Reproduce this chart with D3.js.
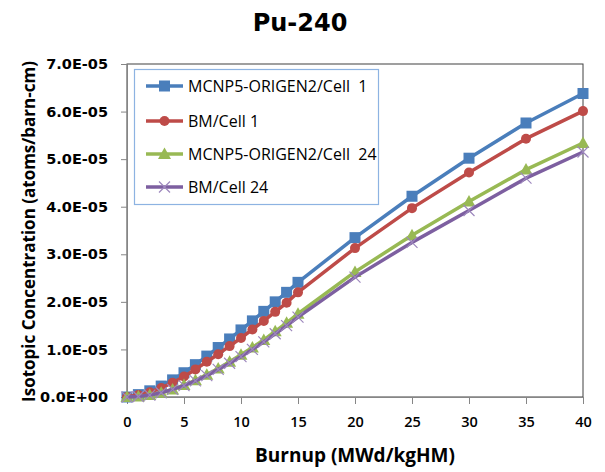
<!DOCTYPE html>
<html><head><meta charset="utf-8">
<script src="https://cdn.jsdelivr.net/npm/d3@7"></script>
<style>body{margin:0;background:#fff}svg{display:block}</style>
</head><body>
<svg id="c" width="605" height="472"></svg>
<script>
const burnup = [0,1,2,3,4,5,6,7,8,9,10,11,12,13,14,15,20,25,30,35,40];
const mcnpCell1 = [0,0.05,0.13,0.23,0.36,0.51,0.68,0.86,1.04,1.22,1.41,1.60,1.80,2.00,2.20,2.41,3.35,4.22,5.02,5.76,6.38];
const bmCell1 = [0,0.04,0.10,0.19,0.30,0.43,0.58,0.74,0.90,1.07,1.24,1.42,1.60,1.79,1.98,2.20,3.13,3.97,4.72,5.43,6.01];
const mcnpCell24 = [0,0.01,0.04,0.09,0.16,0.25,0.35,0.47,0.60,0.74,0.89,1.04,1.20,1.38,1.56,1.75,2.63,3.40,4.11,4.78,5.34];
const bmCell24 = [0,0.01,0.04,0.09,0.16,0.24,0.34,0.45,0.58,0.71,0.85,1.00,1.16,1.33,1.50,1.68,2.52,3.25,3.92,4.60,5.15];
const seriesNames = ["MCNP5-ORIGEN2/Cell  1","BM/Cell 1","MCNP5-ORIGEN2/Cell  24","BM/Cell 24"];
const xTicks = [0,5,10,15,20,25,30,35,40];
const yTicks = [0,1e-5,2e-5,3e-5,4e-5,5e-5,6e-5,7e-5];
const scale = 1e-5;

const colors = ["#4a7ebb","#be4b48","#98b954","#7d5fa0"];
const shapes = ["square","circle","triangle","cross"];
const seriesVals = [mcnpCell1,bmCell1,mcnpCell24,bmCell24];

const svg = d3.select("#c");
const font = "'Open Sans', sans-serif";
const wide = "'DejaVu Sans', sans-serif";
const L=127, R=583, T=64, B=397;
const x = d3.scaleLinear().domain([0,40]).range([L,R]);
const y = d3.scaleLinear().domain([0,7e-5]).range([B,T]);

// frame
svg.append("rect").attr("x",L).attr("y",T).attr("width",R-L).attr("height",B-T)
  .attr("fill","none").attr("stroke","#404040").attr("stroke-width",1);

const fmt = d => d===0 ? "0.0E+00" : (d/1e-5).toFixed(1)+"E-05";
const ya = svg.append("g").attr("transform",`translate(${L},0)`)
  .call(d3.axisLeft(y).tickValues(yTicks).tickFormat(fmt).tickSize(6).tickPadding(13));
const xa = svg.append("g").attr("transform",`translate(0,${B})`)
  .call(d3.axisBottom(x).tickValues(xTicks).tickSize(7).tickPadding(13));
[ya,xa].forEach(a=>{
  a.select(".domain").attr("stroke","#868686");
  a.selectAll(".tick line").attr("stroke","#868686");
  a.selectAll("text").attr("fill","#000");
});
ya.selectAll("text").attr("font-family",wide).attr("font-weight",700).attr("font-size",14.5);
xa.selectAll("text").attr("font-family",font).attr("font-weight",600).attr("font-size",14.5);

// titles
svg.append("text").attr("x",300).attr("y",31).attr("text-anchor","middle")
  .attr("font-family",wide).attr("font-weight",700).attr("font-size",24).text("Pu-240");
svg.append("text").attr("x",355).attr("y",462).attr("text-anchor","middle")
  .attr("font-family",font).attr("font-weight",700).attr("font-size",19).text("Burnup (MWd/kgHM)");
svg.append("text").attr("transform","translate(35,231.5) rotate(-90)").attr("text-anchor","middle")
  .attr("font-family",font).attr("font-weight",700).attr("font-size",17).text("Isotopic Concentration (atoms/barn-cm)");

function marker(g, shape, color, cx, cy){
  if(shape==="square") g.append("rect").attr("x",cx-5.5).attr("y",cy-5.5).attr("width",11).attr("height",11).attr("fill",color);
  else if(shape==="circle") g.append("circle").attr("cx",cx).attr("cy",cy).attr("r",5).attr("fill",color);
  else if(shape==="triangle") g.append("path").attr("d",`M${cx},${cy-6.5}L${cx+6.5},${cy+5}L${cx-6.5},${cy+5}Z`).attr("fill",color);
  else g.append("path").attr("d",`M${cx-5.5},${cy-5.5}L${cx+5.5},${cy+5.5}M${cx-5.5},${cy+5.5}L${cx+5.5},${cy-5.5}`).attr("stroke","#9d87bd").attr("stroke-width",1.2).attr("fill","none");
}

const line = d3.line().x(d=>x(d[0])).y(d=>y(d[1]*scale));
seriesVals.forEach((vals,i)=>{
  const pts = burnup.map((b,j)=>[b,vals[j]]);
  const g = svg.append("g");
  g.append("path").datum(pts).attr("d",line).attr("fill","none")
    .attr("stroke",colors[i]).attr("stroke-width",3.5).attr("stroke-linejoin","round");
  pts.forEach(p=>marker(g,shapes[i],colors[i],x(p[0]),y(p[1]*scale)));
});

// legend
const lg = svg.append("g");
lg.append("rect").attr("x",134.5).attr("y",69.5).attr("width",244).attr("height",135)
  .attr("fill","#fff").attr("stroke","#8db3e2").attr("stroke-width",1.2);
const rowY = [86,121,154,187];
seriesNames.forEach((n,i)=>{
  lg.append("line").attr("x1",146).attr("x2",183).attr("y1",rowY[i]).attr("y2",rowY[i])
    .attr("stroke",colors[i]).attr("stroke-width",3.5);
  marker(lg,shapes[i],colors[i],164.5,rowY[i]);
  lg.append("text").attr("x",188).attr("y",rowY[i]+6).attr("font-family",font)
    .attr("font-size",16).style("white-space","pre").text(n);
});
</script>
</body></html>
